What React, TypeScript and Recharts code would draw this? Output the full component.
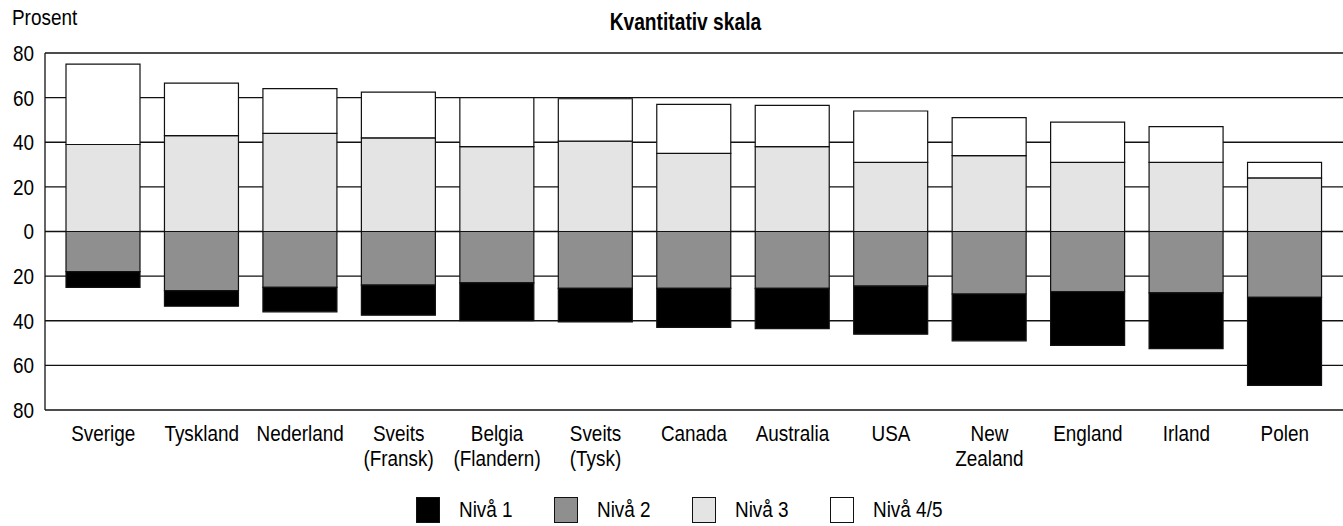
import { BarChart, Bar, XAxis, YAxis, CartesianGrid } from "recharts"

// ---- data (prosent) ----
const countries = [
  "Sverige",
  "Tyskland",
  "Nederland",
  "Sveits\n(Fransk)",
  "Belgia\n(Flandern)",
  "Sveits\n(Tysk)",
  "Canada",
  "Australia",
  "USA",
  "New\nZealand",
  "England",
  "Irland",
  "Polen",
]

// below zero
const niva1 = [7, 7, 11, 13.5, 17, 15, 17.5, 18, 21.5, 21, 24, 25, 39.5]
const niva2 = [18, 26.5, 25, 24, 23, 25.5, 25.5, 25.5, 24.5, 28, 27, 27.5, 29.5]
// above zero
const niva3 = [39, 43, 44, 42, 38, 40.5, 35, 38, 31, 34, 31, 31, 24]
const niva45 = [36, 23.5, 20, 20.5, 22, 19, 22, 18.5, 23, 17, 18, 16, 7]

const yTicks = [-80, -60, -40, -20, 0, 20, 40, 60, 80]

const chartData = countries.map((c, i) => ({
  name: c,
  n1: -niva1[i],
  n2: -niva2[i],
  n3: niva3[i],
  n45: niva45[i],
}))

// no narrow font installed, so squeeze Liberation Sans horizontally
const FONT = "'Liberation Sans', Arial, sans-serif"
const SQUEEZE = 0.86

const colors = {
  n1: "#000000",
  n2: "#8f8f8f",
  n3: "#e4e4e4",
  n45: "#ffffff",
}

const legendItems = [
  { key: "n1", label: "Nivå 1", left: 416 },
  { key: "n2", label: "Nivå 2", left: 554 },
  { key: "n3", label: "Nivå 3", left: 692 },
  { key: "n45", label: "Nivå 4/5", left: 830 },
]

function CountryTick(props: any) {
  const { x, y, payload } = props
  const lines = String(payload.value).split("\n")
  return (
    <g transform={`translate(${x},${y}) scale(${SQUEEZE},1)`}>
      <text textAnchor="middle" fill="#000" fontSize={22} fontFamily={FONT}>
        {lines.map((l, i) => (
          <tspan key={i} x={0} y={23 + i * 25}>
            {l}
          </tspan>
        ))}
      </text>
    </g>
  )
}

function ValueTick(props: any) {
  const { x, y, payload } = props
  return (
    <g transform={`translate(${x},${y}) scale(${SQUEEZE},1)`}>
      <text textAnchor="end" dy="0.36em" fill="#000" fontSize={22} fontFamily={FONT}>
        {Math.abs(payload.value)}
      </text>
    </g>
  )
}

const squeezed = { transform: `scaleX(${SQUEEZE})`, transformOrigin: "left center", display: "inline-block" }

export default function App() {
  return (
    <div
      style={{
        position: "absolute",
        left: 0,
        top: 0,
        width: 1343,
        height: 526,
        background: "#fff",
        fontFamily: FONT,
        overflow: "hidden",
      }}
    >
      <div style={{ position: "absolute", left: 12, top: 5, fontSize: 22, color: "#000", ...squeezed }}>Prosent</div>
      <div
        style={{
          position: "absolute",
          left: 0,
          width: 1371,
          top: 8,
          textAlign: "center",
          fontSize: 24,
          fontWeight: "bold",
          color: "#000",
          transform: "scaleX(0.8)",
          transformOrigin: "685px center",
        }}
      >
        Kvantitativ skala
      </div>

      <BarChart
        width={1343}
        height={526}
        data={chartData}
        stackOffset="sign"
        barSize={74}
        margin={{ top: 53, right: 0, bottom: 56, left: 0 }}
      >
        <CartesianGrid vertical={false} stroke="#111" strokeWidth={1.3} />
        <XAxis
          dataKey="name"
          axisLine={false}
          tickLine={false}
          height={60}
          interval={0}
          padding={{ left: 9, right: 9 }}
          tick={<CountryTick />}
        />
        <YAxis
          width={45}
          domain={[-80, 80]}
          ticks={yTicks}
          axisLine={{ stroke: "#111", strokeWidth: 1.3 }}
          tickLine={false}
          tickSize={0}
          tickMargin={11}
          tick={<ValueTick />}
          allowDataOverflow
        />
        <Bar dataKey="n2" stackId="a" fill={colors.n2} stroke="#111" strokeWidth={1.2} isAnimationActive={false} />
        <Bar dataKey="n1" stackId="a" fill={colors.n1} stroke="#111" strokeWidth={1.2} isAnimationActive={false} />
        <Bar dataKey="n3" stackId="a" fill={colors.n3} stroke="#111" strokeWidth={1.2} isAnimationActive={false} />
        <Bar dataKey="n45" stackId="a" fill={colors.n45} stroke="#111" strokeWidth={1.2} isAnimationActive={false} />
      </BarChart>

      {legendItems.map((it) => (
        <div key={it.key} style={{ position: "absolute", left: it.left, top: 497, display: "flex", alignItems: "center" }}>
          <div
            style={{
              width: 24,
              height: 26,
              background: colors[it.key as keyof typeof colors],
              border: "1.3px solid #111",
              boxSizing: "border-box",
            }}
          />
          <span style={{ marginLeft: 19, fontSize: 22, color: "#000", ...squeezed }}>{it.label}</span>
        </div>
      ))}
    </div>
  )
}
